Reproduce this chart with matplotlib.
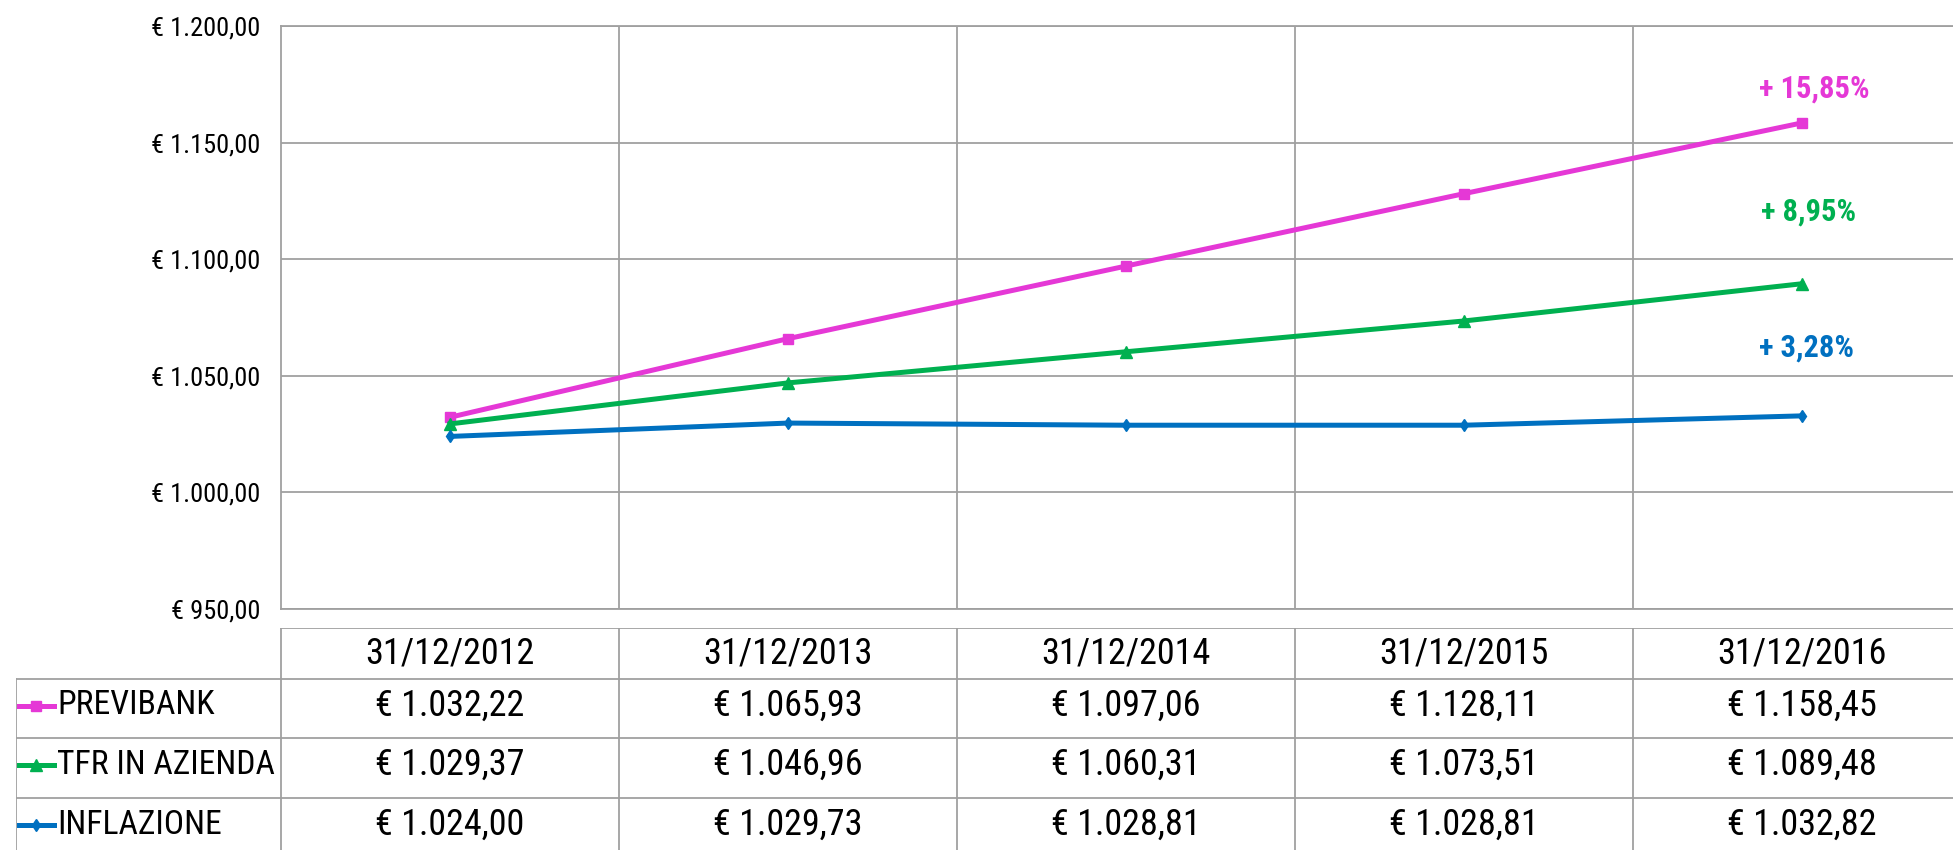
import matplotlib
matplotlib.use("Agg")
import matplotlib.pyplot as plt
from matplotlib import font_manager
from matplotlib.ticker import FuncFormatter, MultipleLocator, FixedLocator

# Data
dates = ["31/12/2012", "31/12/2013", "31/12/2014", "31/12/2015", "31/12/2016"]
series_names = ["PREVIBANK", "TFR IN AZIENDA", "INFLAZIONE"]
previbank = [1032.22, 1065.93, 1097.06, 1128.11, 1158.45]
tfr_azienda = [1029.37, 1046.96, 1060.31, 1073.51, 1089.48]
inflazione = [1024.00, 1029.73, 1028.81, 1028.81, 1032.82]
growth_labels = ["+ 15,85%", "+ 8,95%", "+ 3,28%"]

# Styling
COLORS = ["#E538D6", "#00B050", "#0070C0"]
MARKERS = ["s", "^", "d"]
MARKER_SIZES = [7.5, 8, 6.5]
LABEL_OFFSETS = [(9, 25), (5, 52), (3, 49)]  # points, relative to last value
GRID_COLOR = "#A0A0A0"

# pick the narrowest available font (source uses a condensed Calibri look)
available = {f.name for f in font_manager.fontManager.ttflist}
font_choice = "Lato"
for cand in ["Roboto Condensed", "Liberation Sans Narrow", "Open Sans Condensed"]:
    if cand in available:
        font_choice = cand
        break
plt.rcParams["font.family"] = [font_choice, "DejaVu Sans"]
SIZE_K = 1.0 if font_choice != "Lato" else 0.85


def euro(v, pos=None):
    s = f"{v:,.2f}".replace(",", "X").replace(".", ",").replace("X", ".")
    return f"€ {s}"


fig = plt.figure(figsize=(19.53, 8.5), dpi=100)

# Main line chart (right edge runs slightly past the image, as in the source)
ax = fig.add_axes([281 / 1953, 241 / 850, 1690 / 1953, 583 / 850])
x = list(range(len(dates)))
all_series = [previbank, tfr_azienda, inflazione]
for vals, col, mk, ms in zip(all_series, COLORS, MARKERS, MARKER_SIZES):
    ax.plot(x, vals, color=col, lw=3.6, marker=mk, ms=ms, zorder=3)

for vals, col, lab, off in zip(all_series, COLORS, growth_labels, LABEL_OFFSETS):
    ax.annotate(lab, (x[-1], vals[-1]), xytext=off, textcoords="offset points",
                ha="center", va="center", color=col, fontsize=22 * SIZE_K,
                fontweight="bold")

ax.set_xlim(-0.5, len(dates) - 0.5)
ax.set_ylim(950, 1200)
ax.yaxis.set_major_locator(MultipleLocator(50))
ax.yaxis.set_major_formatter(FuncFormatter(euro))
ax.xaxis.set_major_locator(FixedLocator([i + 0.5 for i in range(len(dates) - 1)]))
ax.set_xticklabels([])
ax.tick_params(axis="both", length=0)
ax.tick_params(axis="y", labelsize=19 * SIZE_K, pad=15)
ax.grid(True, color=GRID_COLOR, lw=1.3)
for sp in ax.spines.values():
    sp.set_color(GRID_COLOR)
    sp.set_linewidth(1.3)

# Data table below the chart, sharing the category scale
tab = fig.add_axes([16 / 1953, -7 / 850, 1955 / 1953, 229 / 850])
legend_left = -1.284
tab.set_xlim(legend_left, len(dates) - 0.5)
tab.set_ylim(229, 0)
tab.axis("off")
row_edges = [0, 51, 110, 170, 229]

# horizontal lines
tab.plot([-0.5, len(dates) - 0.5], [row_edges[0]] * 2, color=GRID_COLOR, lw=1.3)
for yy in row_edges[1:]:
    tab.plot([legend_left, len(dates) - 0.5], [yy, yy], color=GRID_COLOR, lw=1.3)
# vertical lines
tab.plot([legend_left] * 2, [row_edges[1], row_edges[-1]], color=GRID_COLOR, lw=1.3)
for xx in [i - 0.5 for i in range(len(dates))]:
    tab.plot([xx, xx], [row_edges[0], row_edges[-1]], color=GRID_COLOR, lw=1.3)

TAB_FS = 26 * SIZE_K
hdr_mid = (row_edges[0] + row_edges[1]) / 2
for i, d in enumerate(dates):
    tab.text(i, hdr_mid, d, ha="center", va="center", fontsize=TAB_FS)

for r, (name, vals, col, mk, ms) in enumerate(
        zip(series_names, all_series, COLORS, MARKERS, MARKER_SIZES)):
    mid = (row_edges[r + 1] + row_edges[r + 2]) / 2 - 3
    tab.plot([-1.275, -1.172], [mid, mid], color=col, lw=3.6)
    tab.plot([-1.2235], [mid], color=col, marker=mk, ms=ms)
    tab.text(-1.163, mid, name, ha="left", va="center", fontsize=TAB_FS * 0.93)
    for i, v in enumerate(vals):
        tab.text(i, mid, euro(v), ha="center", va="center", fontsize=TAB_FS)

fig.savefig("out.png", dpi=100)
